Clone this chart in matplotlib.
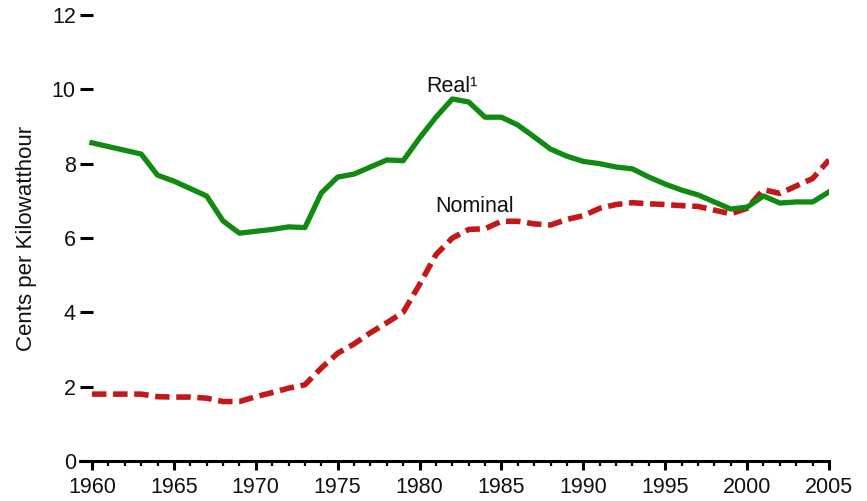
import matplotlib
matplotlib.use("Agg")
import matplotlib.pyplot as plt
from matplotlib.ticker import MultipleLocator

years = list(range(1960, 2006))
real = [8.56, 8.46, 8.36, 8.26, 7.69, 7.53, 7.33, 7.13, 6.46, 6.13,
        6.18, 6.23, 6.30, 6.28, 7.21, 7.64, 7.72, 7.91, 8.10, 8.08,
        8.69, 9.25, 9.74, 9.66, 9.25, 9.25, 9.04, 8.72, 8.39, 8.20,
        8.06, 8.00, 7.91, 7.86, 7.64, 7.45, 7.29, 7.16, 6.97, 6.78,
        6.83, 7.13, 6.94, 6.97, 6.97, 7.24]
nominal = [1.80, 1.80, 1.80, 1.80, 1.73, 1.72, 1.72, 1.69, 1.60, 1.60,
           1.73, 1.84, 1.96, 2.05, 2.50, 2.90, 3.15, 3.45, 3.72, 4.00,
           4.75, 5.55, 6.00, 6.23, 6.25, 6.45, 6.45, 6.38, 6.35, 6.50,
           6.60, 6.80, 6.90, 6.95, 6.92, 6.90, 6.87, 6.85, 6.75, 6.65,
           6.80, 7.30, 7.20, 7.40, 7.60, 8.10]
x_major = [1960, 1965, 1970, 1975, 1980, 1985, 1990, 1995, 2000, 2005]
y_major = [0, 2, 4, 6, 8, 10, 12]

plt.rcParams['font.family'] = ['Liberation Sans', 'DejaVu Sans']

fig = plt.figure(figsize=(8.67, 5.01), dpi=100)
ax = fig.add_axes([80/867, 40/501, (829-80)/867, 446/501])

green = '#118a11'
red = '#c41818'
ax.plot(years, real, color=green, lw=3.8, solid_joinstyle='round', zorder=3)
ax.plot(years, nominal, color=red, lw=4.0, dashes=(2.6, 1.2), zorder=2)

ax.set_xlim(1960 - 12/16.38, 2005)
ax.set_ylim(0, 12)
ax.set_xticks(x_major)
ax.xaxis.set_minor_locator(MultipleLocator(1))
ax.set_yticks(y_major)

for s in ['top', 'right', 'left']:
    ax.spines[s].set_visible(False)
ax.spines['bottom'].set_linewidth(2.2)

ax.tick_params(axis='x', which='major', direction='out', length=6.5, width=2.2,
               labelsize=15.5, pad=5, labelcolor='#111111')
ax.tick_params(axis='x', which='minor', direction='out', length=3.8, width=1.6)
ax.tick_params(axis='y', which='major', direction='in', length=9.5, width=2.2,
               labelsize=15.5, pad=3, labelcolor='#111111')
ax.set_ylabel('Cents per Kilowatthour', fontsize=16, labelpad=11, color='#111111')

ax.text(1982.0, 9.94, 'Real\u00b9', fontsize=15.5, ha='center', va='baseline',
        color='#111111')
ax.text(1983.35, 6.69, 'Nominal', fontsize=15.5, ha='center', va='baseline',
        color='#111111')

fig.savefig('out.png', dpi=100)
